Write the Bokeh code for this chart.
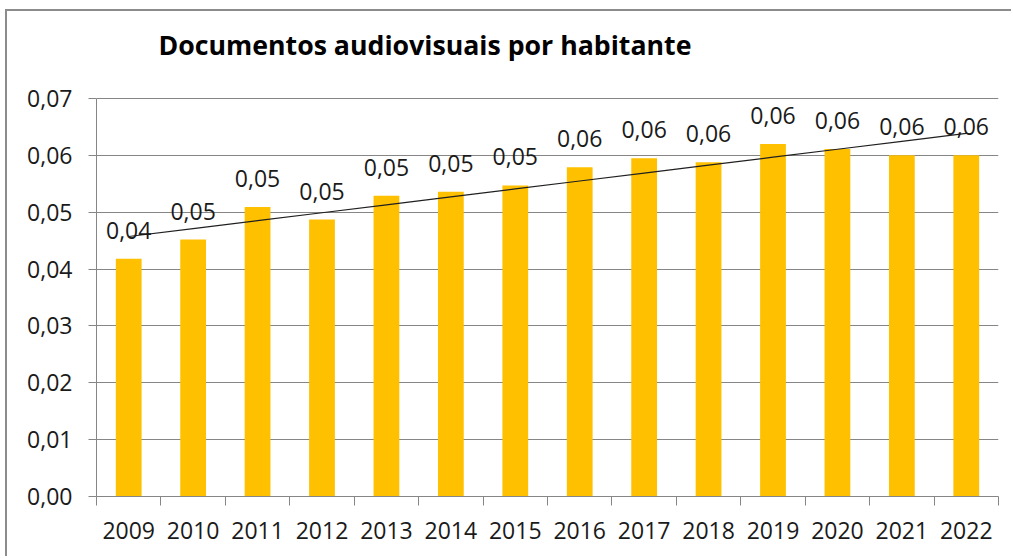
import numpy as np
from bokeh.plotting import figure
from bokeh.models import FixedTicker, CustomJSTickFormatter, Range1d
from bokeh.core.properties import value
from bokeh.embed import file_html
from bokeh.resources import INLINE

# ---- data ----
title_text = "Documentos audiovisuais por habitante"
years = ["2009", "2010", "2011", "2012", "2013", "2014", "2015",
         "2016", "2017", "2018", "2019", "2020", "2021", "2022"]
values = [0.0418, 0.0452, 0.0509, 0.0487, 0.0529, 0.0536, 0.0547,
          0.0579, 0.0595, 0.0588, 0.0620, 0.0611, 0.0600, 0.0600]
y_ticks = [0.00, 0.01, 0.02, 0.03, 0.04, 0.05, 0.06, 0.07]

x = np.arange(len(years))
labels = [f"{v:.2f}".replace(".", ",") for v in values]
coef = np.polyfit(x, values, 1)
trend = np.polyval(coef, x)

GRID = "#868686"
FONT = "Open Sans"
TXT = "#1a1a1a"

# layout: the frame extends up to the canvas top so the title can sit inside it
W, H = 1006, 547
BOTTOM = 62
FRAME_H = H - BOTTOM       # frame height in px
AXIS_PX = 398              # px spanned by 0 .. last tick
y_top = y_ticks[-1]
y_end = y_top * FRAME_H / AXIS_PX

p = figure(width=W, height=H, output_backend="svg", toolbar_location=None,
           x_range=Range1d(-0.5, len(years) - 0.5), y_range=Range1d(0, y_end),
           min_border_left=89, min_border_right=15, min_border_top=0, min_border_bottom=BOTTOM)
p.styles = {"margin-left": "5px", "margin-top": "9px",
            "border-left": "2px solid #8c8c8c", "border-top": "2px solid #8c8c8c"}
p.outline_line_color = None
p.background_fill_color = "white"
p.border_fill_color = "white"

p.vbar(x=x, top=values, width=0.4, fill_color="#FFC000", line_color=None)
p.line(x, trend, line_color="#202020", line_width=1.2)
p.text(x=x, y=values, text=labels, text_align="center", text_baseline="alphabetic",
       y_offset=-28.5, text_font=value(FONT), text_font_size="23px", text_color=TXT)

# title, anchored at the top-left corner of the value axis
p.text(x=[-0.5], y=[y_top], text=[title_text], x_offset=62, y_offset=-54,
       text_align="left", text_baseline="alphabetic", text_font=value(FONT),
       text_font_size="26.7px", text_font_style="bold", text_color="#000000")

# x axis
p.xaxis.ticker = FixedTicker(ticks=list(x), minor_ticks=[i - 0.5 for i in range(len(years) + 1)])
p.xaxis.formatter = CustomJSTickFormatter(args=dict(labels=years),
                                          code="const i = Math.round(tick); return (i >= 0 && i < labels.length) ? labels[i] : '';")
p.xaxis.major_tick_line_color = None
p.xaxis.minor_tick_line_color = GRID
p.xaxis.minor_tick_out = 9
p.xaxis.minor_tick_in = 0
p.xaxis.axis_line_color = GRID
p.xaxis.major_label_text_font = FONT
p.xaxis.major_label_text_font_size = "23px"
p.xaxis.major_label_text_color = TXT
p.xaxis.major_label_standoff = 16
p.xgrid.visible = False

# y axis
p.yaxis.ticker = FixedTicker(ticks=y_ticks, minor_ticks=[])
p.yaxis.bounds = (y_ticks[0], y_top)
p.yaxis.formatter = CustomJSTickFormatter(code="return tick.toFixed(2).replace('.', ',');")
p.yaxis.major_tick_out = 8
p.yaxis.major_tick_in = 0
p.yaxis.major_tick_line_color = GRID
p.yaxis.minor_tick_line_color = None
p.yaxis.axis_line_color = GRID
p.yaxis.major_label_text_font = FONT
p.yaxis.major_label_text_font_size = "23px"
p.yaxis.major_label_text_color = TXT
p.yaxis.major_label_standoff = 16
p.ygrid.grid_line_color = GRID
p.ygrid.grid_line_width = 1

open("out.html", "w").write(file_html(p, INLINE))
